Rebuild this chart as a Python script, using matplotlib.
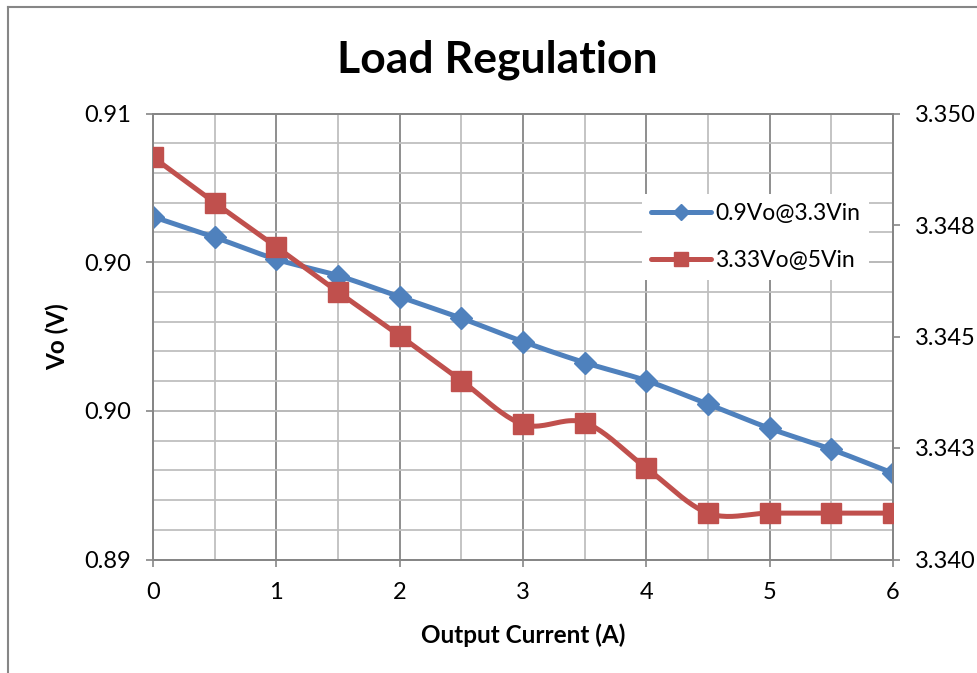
import numpy as np
import matplotlib.pyplot as plt
from matplotlib.lines import Line2D
from matplotlib.ticker import FixedLocator, FixedFormatter

plt.rcParams['font.family'] = ['Lato', 'DejaVu Sans']

# data
current = [0, 0.5, 1, 1.5, 2, 2.5, 3, 3.5, 4, 4.5, 5, 5.5, 6]
vo_09 = [0.90537, 0.90445, 0.90346, 0.90273, 0.90178, 0.90082, 0.89977,
         0.89883, 0.89802, 0.89697, 0.89588, 0.89494, 0.89387]
vo_333 = [3.34902, 3.34800, 3.34701, 3.34600, 3.34502, 3.34401, 3.34303,
          3.34307, 3.34205, 3.34104, 3.34104, 3.34104, 3.34104]

left_ticks = [0.89, 0.896667, 0.903333, 0.91]
left_labels = ['0.89', '0.90', '0.90', '0.91']
right_ticks = [3.340, 3.3425, 3.345, 3.3475, 3.350]
right_labels = ['3.340', '3.343', '3.345', '3.348', '3.350']

BLUE = '#4F81BD'
RED = '#C0504D'
GRID_DARK = '#868686'
GRID_LIGHT = '#BFBFBF'


def smooth(x, y, n=24):
    # Excel-like smoothed line (Catmull-Rom as cubic Bezier)
    x = np.asarray(x, float)
    y = np.asarray(y, float)
    px = np.concatenate([[x[0]], x, [x[-1]]])
    py = np.concatenate([[y[0]], y, [y[-1]]])
    xs, ys = [], []
    t = np.linspace(0, 1, n)
    for i in range(1, len(px) - 2):
        p0 = np.array([px[i], py[i]])
        p3 = np.array([px[i + 1], py[i + 1]])
        c1 = p0 + (p3 - np.array([px[i - 1], py[i - 1]])) / 6
        c2 = p3 - (np.array([px[i + 2], py[i + 2]]) - p0) / 6
        b = ((1 - t) ** 3)[:, None] * p0 + (3 * (1 - t) ** 2 * t)[:, None] * c1 \
            + (3 * (1 - t) * t ** 2)[:, None] * c2 + (t ** 3)[:, None] * p3
        xs.extend(b[:, 0])
        ys.extend(b[:, 1])
    return xs, ys


fig = plt.figure(figsize=(9.78, 6.73), dpi=100)
ax = fig.add_axes([153 / 978, 1 - 559.5 / 673, 740 / 978, 446 / 673])
ax2 = ax.twinx()

ax.set_xlim(0, 6)
ax.set_ylim(0.89, 0.91)
ax2.set_ylim(3.340, 3.350)

ax.xaxis.set_major_locator(FixedLocator(np.arange(0, 6.01, 1)))
ax.xaxis.set_minor_locator(FixedLocator(np.arange(0.5, 6, 1)))
ax.yaxis.set_major_locator(FixedLocator(left_ticks))
ax.yaxis.set_major_formatter(FixedFormatter(left_labels))
ax.yaxis.set_minor_locator(FixedLocator(np.linspace(0.89, 0.91, 16)))
ax2.yaxis.set_major_locator(FixedLocator(right_ticks))
ax2.yaxis.set_major_formatter(FixedFormatter(right_labels))

ax.grid(which='minor', color=GRID_LIGHT, lw=1.3)
ax.grid(which='major', color=GRID_DARK, lw=1.3)
ax.set_axisbelow(True)

for a in (ax, ax2):
    for s in a.spines.values():
        s.set_color(GRID_DARK)
        s.set_linewidth(1.3)
ax.tick_params(which='major', direction='out', length=5, width=1.2, color=GRID_DARK,
               labelsize=17, pad=11)
ax.tick_params(which='minor', length=0)
ax2.tick_params(which='major', direction='out', length=5, width=1.2, color=GRID_DARK,
                labelsize=17, pad=11)

sx, sy = smooth(current, vo_09)
ax.plot(sx, sy, color=BLUE, lw=3.6, solid_capstyle='round', zorder=3)
ax.plot(current, vo_09, ls='none', marker='D', ms=11, color=BLUE, zorder=4)
sx, sy = smooth(current, vo_333)
ax2.plot(sx, sy, color=RED, lw=3.6, solid_capstyle='round', zorder=3)
ax2.plot(current, vo_333, ls='none', marker='s', ms=14, color=RED, zorder=4)

handles = [Line2D([], [], color=BLUE, lw=3.6, marker='D', ms=8, solid_capstyle='round'),
           Line2D([], [], color=RED, lw=3.6, marker='s', ms=10, solid_capstyle='round')]
leg = ax2.legend(handles, ['0.9Vo@3.3Vin', '3.33Vo@5Vin'], loc='upper left',
                 bbox_to_anchor=(0.645, 0.846), fontsize=16.5, frameon=True,
                 fancybox=False, edgecolor='none', facecolor='white', framealpha=1,
                 handlelength=2.6, handletextpad=0.2, labelspacing=1.15,
                 borderpad=0.4)

fig.text(497 / 978, 1 - 60 / 673, 'Load Regulation', ha='center', va='center',
         fontsize=32, fontweight='bold')
fig.text(523 / 978, 1 - 635 / 673, 'Output Current (A)', ha='center', va='center',
         fontsize=17.5, fontweight='bold')
fig.text(57 / 978, 1 - 337 / 673, 'Vo (V)', ha='center', va='center', rotation=90,
         fontsize=17.5, fontweight='bold')

# outer chart frame (left and top edges visible)
fig.add_artist(Line2D([8 / 978, 8 / 978], [0, 1 - 7 / 673], color=GRID_DARK, lw=1.5))
fig.add_artist(Line2D([8 / 978, 1], [1 - 7 / 673, 1 - 7 / 673], color=GRID_DARK, lw=1.5))

fig.savefig('out.png', dpi=100)
